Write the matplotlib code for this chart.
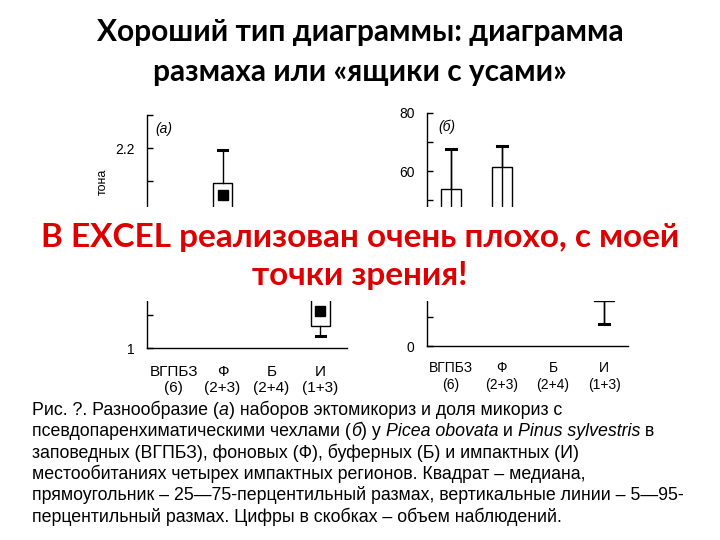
import matplotlib
matplotlib.use("Agg")
import matplotlib.pyplot as plt
from matplotlib.patches import Rectangle
from matplotlib.ticker import FixedLocator

W, H = 720, 540

title_lines = ["Хороший тип диаграммы: диаграмма", "размаха или «ящики с усами»"]
overlay_lines = ["В EXCEL реализован очень плохо, с моей", "точки зрения!"]

categories = ["ВГПБЗ", "Ф", "Б", "И"]
sample_sizes = ["(6)", "(2+3)", "(2+4)", "(1+3)"]

# panel (а): diversity of ectomycorrhiza sets (5, 25, 50, 75, 95 percentiles)
a_p5 = [1.35, 1.60, 1.30, 1.07]
a_p25 = [1.50, 1.75, 1.42, 1.13]
a_med = [1.58, 1.92, 1.50, 1.22]
a_p75 = [1.65, 1.99, 1.60, 1.35]
a_p95 = [1.80, 2.19, 1.75, 1.50]
a_yticks = [1.0, 1.4, 1.8, 2.2]
a_yticklabels = ["1", "", "", "2.2"]   # middle labels are hidden by the overlay

# panel (б): share of mycorrhiza with pseudoparenchymatous mantles, %
b_p5 = [20, 25, 18, 7.5]
b_p25 = [35, 38, 25, 15.3]
b_med = [42, 45, 30, 22]
b_p75 = [53.8, 61.6, 38, 30]
b_p95 = [67.8, 68.5, 45, 40]
b_yticks = [0, 20, 40, 60, 80]
b_yticklabels = ["0", "", "", "60", "80"]   # hidden by the overlay

caption_lines = [
    [("Рис. ?. Разнообразие (", False), ("а", True), (") наборов эктомикориз и доля микориз с", False)],
    [("псевдопаренхиматическими чехлами (", False), ("б", True), (") у ", False),
     ("Picea obovata", True), (" и ", False), ("Pinus sylvestris", True), (" в", False)],
    [("заповедных (ВГПБЗ), фоновых (Ф), буферных (Б) и импактных (И)", False)],
    [("местообитаниях четырех импактных регионов. Квадрат – медиана,", False)],
    [("прямоугольник – 25—75-перцентильный размах, вертикальные линии – 5—95-", False)],
    [("перцентильный размах. Цифры в скобках – объем наблюдений.", False)],
]

ARIAL = ["Liberation Sans", "DejaVu Sans"]
BOLDF = ["Lato", "Open Sans", "DejaVu Sans"]

fig = plt.figure(figsize=(W / 100, H / 100), dpi=100)
fig.patch.set_facecolor("white")


def px_axes(left, top, right, bottom):
    return fig.add_axes([left / W, 1 - bottom / H, (right - left) / W, (bottom - top) / H])


def draw_panel(ax, p5, p25, med, p75, p95, width, capw, through, ylim, yticks, ylabels,
               minor, xlim, xfs, xpad):
    pos = list(range(1, len(categories) + 1))
    stats = [dict(whislo=a, q1=b, med=c, q3=d, whishi=e)
             for a, b, c, d, e in zip(p5, p25, med, p75, p95)]
    ax.bxp(stats, positions=pos, widths=width, patch_artist=True, showfliers=False,
           boxprops=dict(facecolor="white", edgecolor="black", linewidth=1.0),
           whiskerprops=dict(color="black", linewidth=1.0),
           capprops=dict(color="black", linewidth=2.2),
           medianprops=dict(linewidth=0),
           capwidths=capw, manage_ticks=False)
    if through:
        ax.vlines(pos, p5, p95, color="black", lw=1.0, zorder=3)
    ax.plot(pos, med, linestyle="none", marker="s", ms=6.5, color="black", zorder=4)
    ax.set_xlim(*xlim)
    ax.set_ylim(*ylim)
    for s in ["top", "right"]:
        ax.spines[s].set_visible(False)
    for s in ["left", "bottom"]:
        ax.spines[s].set_linewidth(1.0)
    ax.set_yticks(yticks)
    ax.set_yticklabels(ylabels, fontsize=10, family=ARIAL)
    ax.yaxis.set_minor_locator(FixedLocator(minor))
    ax.tick_params(axis="y", which="both", direction="in", length=4, width=1, pad=9)
    ax.set_xticks(pos)
    ax.set_xticklabels([f"{c}\n{n}" for c, n in zip(categories, sample_sizes)],
                       fontsize=xfs, family=ARIAL, linespacing=1.25)
    ax.tick_params(axis="x", length=0, pad=xpad)
    ax.patch.set_alpha(0)


ax_a = px_axes(147, 114.7, 347, 348)
draw_panel(ax_a, a_p5, a_p25, a_med, a_p75, a_p95, 0.39, 0.18, False,
           (1.0, 2.4), a_yticks, a_yticklabels, [1.2, 1.6, 2.0, 2.4],
           (0.45, 4.55), 11, 12)
ax_a.text(0.04, 0.94, "(а)", transform=ax_a.transAxes, fontsize=10, family=ARIAL,
          style="italic", ha="left", va="center")

ax_b = px_axes(427, 113, 628, 346)
draw_panel(ax_b, b_p5, b_p25, b_med, b_p75, b_p95, 0.41, 0.2, True,
           (0, 80), b_yticks, b_yticklabels, [10, 30, 50, 70],
           (0.53, 4.47), 10, 11)
ax_b.text(0.055, 0.94, "(б)", transform=ax_b.transAxes, fontsize=10, family=ARIAL,
          style="italic", ha="left", va="center")

# fragment of y-axis label of panel (а) visible above the overlay
fig.text(103 / W, 1 - 169 / H, "тона", rotation=90, fontsize=9, family=ARIAL,
         ha="center", va="top")

# title
for i, line in enumerate(title_lines):
    fig.text(0.5, 1 - (32 + 40 * i) / H, line, ha="center", va="center",
             fontsize=21.5, family=BOLDF, weight="bold", color="black")

# white overlay box with red comment
fig.add_artist(Rectangle((0, 1 - 301 / H), 1, (301 - 207) / H, transform=fig.transFigure,
                         facecolor="white", edgecolor="none", zorder=10))
for i, line in enumerate(overlay_lines):
    fig.text(0.5, 1 - (237 + 38 * i) / H, line, ha="center", va="center",
             fontsize=24, family=BOLDF, weight="bold", color="#dc0000", zorder=11)

# caption with italic parts
renderer = fig.canvas.get_renderer()


def text_width(txt, ital, size):
    t1 = fig.text(0, 0, txt + "|", fontsize=size, family=ARIAL,
                  style="italic" if ital else "normal")
    t2 = fig.text(0, 0, "|", fontsize=size, family=ARIAL,
                  style="italic" if ital else "normal")
    w = t1.get_window_extent(renderer).width - t2.get_window_extent(renderer).width
    t1.remove()
    t2.remove()
    return w


cap_size = 12.8
for i, pieces in enumerate(caption_lines):
    x = 32.0
    y = 415 + 21.3 * i
    for txt, ital in pieces:
        fig.text(x / W, 1 - y / H, txt, fontsize=cap_size, family=ARIAL,
                 style="italic" if ital else "normal", ha="left", va="baseline")
        x += text_width(txt, ital, cap_size)

fig.savefig("out.png", dpi=100)
